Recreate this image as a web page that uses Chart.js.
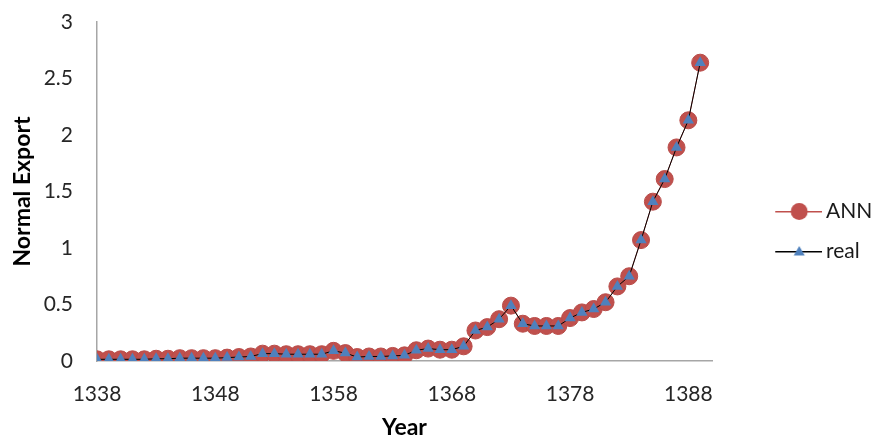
<!DOCTYPE html>
<html>
<head>
<meta charset="utf-8">
<script src="https://cdn.jsdelivr.net/npm/chart.js@4/dist/chart.umd.min.js"></script>
<style>
  html, body { margin: 0; padding: 0; background: #ffffff; }
  #wrap { width: 874px; height: 441px; position: relative; }
</style>
</head>
<body>
<div id="wrap"><canvas id="c"></canvas></div>
<script>
const years = [1338,1339,1340,1341,1342,1343,1344,1345,1346,1347,1348,1349,1350,1351,1352,1353,1354,1355,1356,1357,1358,1359,1360,1361,1362,1363,1364,1365,1366,1367,1368,1369,1370,1371,1372,1373,1374,1375,1376,1377,1378,1379,1380,1381,1382,1383,1384,1385,1386,1387,1388,1389];
const annValues = [0.015,0.015,0.015,0.015,0.015,0.02,0.02,0.025,0.025,0.025,0.025,0.03,0.035,0.04,0.065,0.065,0.06,0.06,0.06,0.06,0.09,0.07,0.035,0.04,0.04,0.045,0.05,0.095,0.11,0.10,0.10,0.13,0.27,0.30,0.37,0.49,0.33,0.31,0.31,0.31,0.38,0.43,0.46,0.52,0.66,0.75,1.07,1.41,1.61,1.89,2.13,2.64];
const realValues = [0.015,0.015,0.015,0.015,0.015,0.02,0.02,0.025,0.025,0.025,0.025,0.03,0.035,0.04,0.065,0.065,0.06,0.06,0.06,0.06,0.09,0.07,0.035,0.04,0.04,0.045,0.05,0.095,0.11,0.10,0.10,0.13,0.27,0.30,0.37,0.49,0.33,0.31,0.31,0.31,0.38,0.43,0.46,0.52,0.66,0.75,1.07,1.41,1.61,1.89,2.13,2.64];
const xTickLabels = [1338,1348,1358,1368,1378,1388];
const yTickLabels = [0,0.5,1,1.5,2,2.5,3];
const seriesNames = ['ANN','real'];

const RED = '#C0504D';
const BLUE = '#4F81BD';

function legendIcon(kind) {
  const cv = document.createElement('canvas');
  const w = 98, h = 21;
  cv.width = w; cv.height = h;
  const g = cv.getContext('2d');
  g.fillStyle = kind === 'ann' ? RED : '#000000';
  g.fillRect(51, 10, w - 51, 1.5);
  const cx = 75, cy = 10.5;
  if (kind === 'ann') {
    g.fillStyle = RED;
    g.beginPath(); g.arc(cx, cy, 8.5, 0, Math.PI*2); g.fill();
  } else {
    g.fillStyle = BLUE;
    g.beginPath();
    g.moveTo(cx, cy - 5.5);
    g.lineTo(cx + 5.5, cy + 4);
    g.lineTo(cx - 5.5, cy + 4);
    g.closePath(); g.fill();
  }
  return cv;
}
const icons = [legendIcon('ann'), legendIcon('real')];

const annPts = years.map((y, i) => ({x: y, y: annValues[i]}));
const realPts = years.map((y, i) => ({x: y, y: realValues[i]}));

const FONT = 'Lato, "Open Sans", sans-serif';

new Chart(document.getElementById('c'), {
  type: 'line',
  data: {
    datasets: [
      {
        label: seriesNames[0],
        data: annPts,
        order: 1,
        borderColor: RED,
        borderWidth: 1,
        backgroundColor: RED,
        pointStyle: 'circle',
        pointRadius: 8.5,
        pointBackgroundColor: RED,
        pointBorderColor: '#B84C49',
        pointBorderWidth: 1,
        tension: 0
      },
      {
        label: seriesNames[1],
        data: realPts,
        order: 0,
        borderColor: '#000000',
        borderWidth: 1,
        backgroundColor: BLUE,
        pointStyle: 'triangle',
        pointRadius: 6.5,
        pointBackgroundColor: BLUE,
        pointBorderColor: BLUE,
        pointBorderWidth: 0,
        tension: 0
      }
    ]
  },
  options: {
    responsive: true,
    maintainAspectRatio: false,
    animation: false,
    events: [],
    layout: { padding: { top: 22, left: 0, right: 0, bottom: 0 } },
    plugins: {
      tooltip: { enabled: false },
      legend: {
        position: 'right',
        align: 'center',
        maxWidth: 162,
        labels: {
          usePointStyle: true,
          pointStyleWidth: 84.5,
          boxHeight: 20,
          padding: 19,
          color: '#1a1a1a',
          font: { family: FONT, size: 21 },
          generateLabels: (chart) => {
            const items = Chart.defaults.plugins.legend.labels.generateLabels(chart);
            items.sort((a, b) => a.datasetIndex - b.datasetIndex);
            items.forEach(it => { it.pointStyle = icons[it.datasetIndex]; });
            return items;
          }
        }
      }
    },
    scales: {
      x: {
        type: 'linear',
        min: years[0],
        max: 1390,
        grid: { display: false, drawTicks: false },
        border: { display: true, color: '#A6A6A6', width: 1.5 },
        afterBuildTicks: (scale) => { scale.ticks = xTickLabels.map(v => ({ value: v })); },
        afterFit: (scale) => { scale.height = 80; scale.paddingLeft = 0; scale.paddingRight = 0; },
        ticks: {
          autoSkip: false,
          maxRotation: 0,
          padding: 21,
          color: '#262626',
          font: { family: FONT, size: 21 },
          callback: (v) => String(v)
        },
        title: {
          display: true,
          text: 'Year',
          color: '#000000',
          font: { family: FONT, size: 23, weight: 'bold' },
          padding: { top: 0, bottom: 0 }
        }
      },
      y: {
        min: 0,
        max: 3,
        grid: { display: false, drawTicks: false },
        border: { display: true, color: '#A6A6A6', width: 1.5 },
        afterBuildTicks: (scale) => { scale.ticks = yTickLabels.map(v => ({ value: v })); },
        afterFit: (scale) => { scale.width = 97; scale.paddingTop = 0; scale.paddingBottom = 0; },
        ticks: {
          padding: 24,
          color: '#262626',
          font: { family: FONT, size: 21 },
          callback: (v) => String(v)
        },
        title: {
          display: true,
          text: 'Normal Export',
          color: '#000000',
          font: { family: FONT, size: 23, weight: 'bold' },
          padding: { top: 9, bottom: 0 }
        }
      }
    }
  }
});
</script>
</body>
</html>
